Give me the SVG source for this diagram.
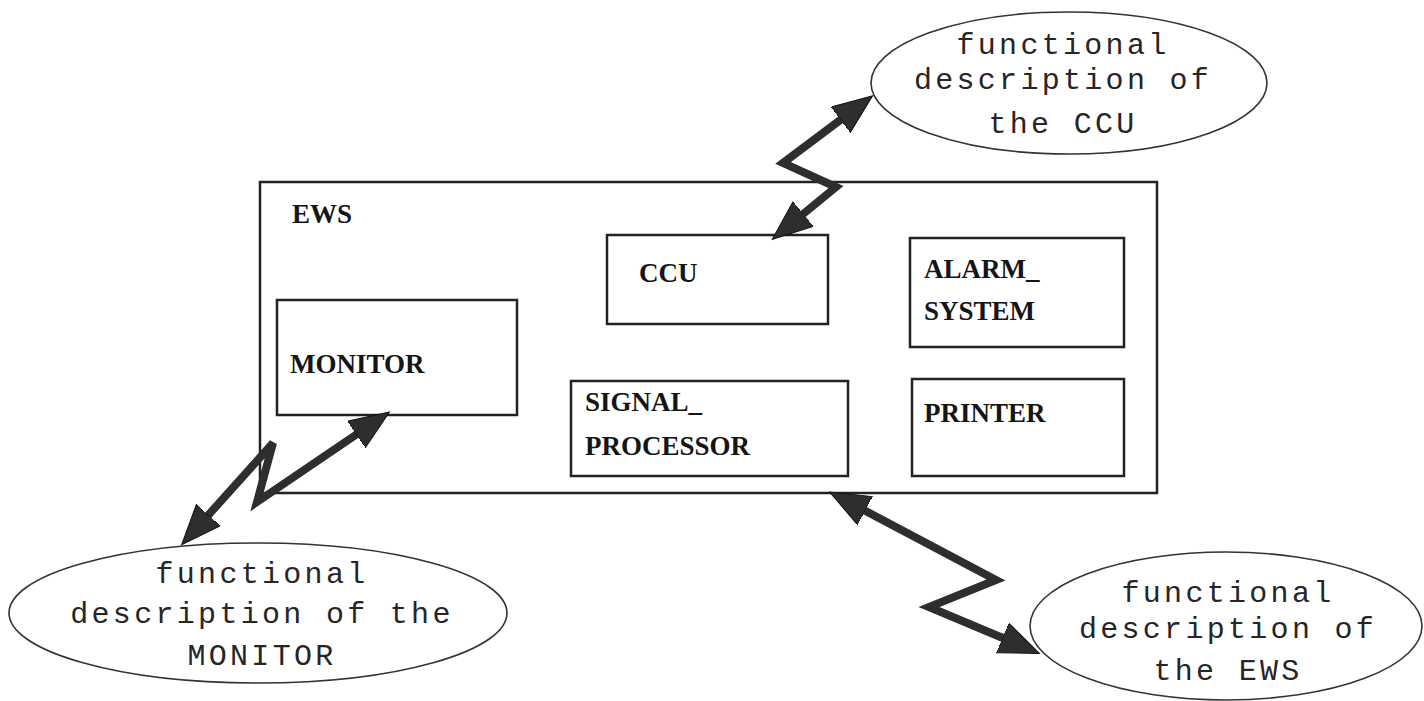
<svg xmlns="http://www.w3.org/2000/svg" width="1424" height="701" viewBox="0 0 1424 701">
  <style>
    .box { fill: none; stroke: #222; stroke-width: 2.5; }
    .lbl { font-family: "Liberation Serif", "Times New Roman", serif; font-size: 27px; font-weight: bold; fill: #151515; }
    .ell { fill: #fff; stroke: #333; stroke-width: 1.6; }
    .etxt { font-family: "Liberation Mono", "Courier New", monospace; font-size: 30px; letter-spacing: 3.3px; fill: #262626; text-anchor: middle; }
    .conn { fill: none; stroke: #2e2e2e; stroke-width: 8; stroke-linejoin: miter; marker-start: url(#head); marker-end: url(#head); }
  </style>
  <defs>
    <marker id="head" markerUnits="userSpaceOnUse" markerWidth="42" markerHeight="34" refX="8" refY="16" orient="auto-start-reverse">
      <path d="M0,0 L40,16 L0,32 Z" fill="#2e2e2e" stroke="#111" stroke-width="1"/>
    </marker>
  </defs>
  <rect width="1424" height="701" fill="#fff"/>

  <g id="ews">
    <rect class="box" x="260" y="182" width="897" height="311"/>
    <text class="lbl" x="292" y="223">EWS</text>
  </g>
  <g id="ccu">
    <rect class="box" x="607" y="235" width="221" height="89"/>
    <text class="lbl" x="639" y="282">CCU</text>
  </g>
  <g id="alarm-system">
    <rect class="box" x="910" y="238" width="214" height="109"/>
    <text class="lbl" x="924" y="278">ALARM_</text>
    <text class="lbl" x="924" y="320">SYSTEM</text>
  </g>
  <g id="monitor">
    <rect class="box" x="277" y="300" width="240" height="115"/>
    <text class="lbl" x="290" y="373">MONITOR</text>
  </g>
  <g id="signal-processor">
    <rect class="box" x="571" y="381" width="277" height="95" stroke="#444"/>
    <text class="lbl" x="585" y="411">SIGNAL_</text>
    <text class="lbl" x="585" y="455">PROCESSOR</text>
  </g>
  <g id="printer">
    <rect class="box" x="912" y="379" width="212" height="97"/>
    <text class="lbl" x="924" y="422">PRINTER</text>
  </g>

  <g id="desc-ccu">
    <ellipse class="ell" cx="1069" cy="83" rx="198" ry="71"/>
    <text class="etxt" x="1063" y="54">functional</text>
    <text class="etxt" x="1063" y="89">description of</text>
    <text class="etxt" x="1063" y="133">the CCU</text>
  </g>
  <g id="desc-monitor">
    <ellipse class="ell" cx="258" cy="613" rx="249" ry="70"/>
    <text class="etxt" x="262" y="583">functional</text>
    <text class="etxt" x="262" y="623">description of the</text>
    <text class="etxt" x="262" y="665">MONITOR</text>
  </g>
  <g id="desc-ews">
    <ellipse class="ell" cx="1226" cy="626" rx="196" ry="74"/>
    <text class="etxt" x="1228" y="602">functional</text>
    <text class="etxt" x="1228" y="638">description of</text>
    <text class="etxt" x="1228" y="680">the EWS</text>
  </g>

  <g id="connectors">
    <polyline class="conn" points="797,219 836,187 783,163 847,115"/>
    <polyline class="conn" points="363,430 257,502 273,443 203,521"/>
    <polyline class="conn" points="858,507 996,580 929,607 1010,641"/>
  </g>
</svg>
